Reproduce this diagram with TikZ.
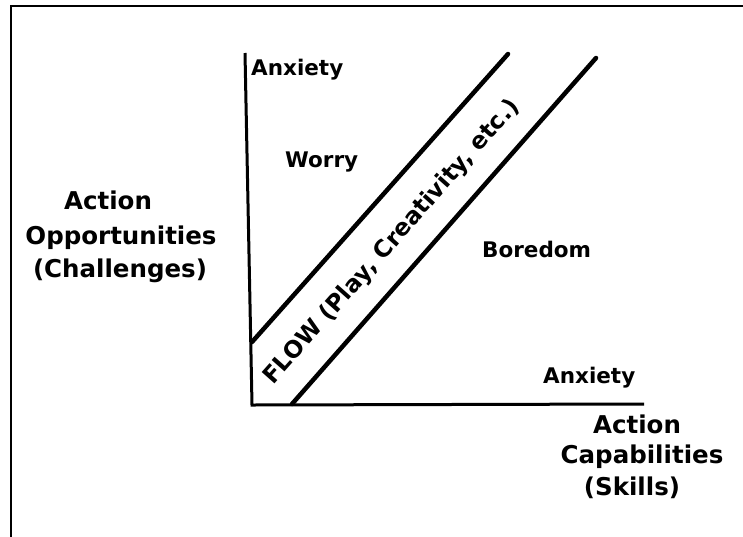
\documentclass[tikz,border=0pt]{standalone}
\usepackage{fontspec}
\setmainfont{DejaVu Sans}
\begin{document}
\begin{tikzpicture}[x=1pt,y=-1pt,
  lbl/.style={font=\bfseries\fontsize{21.5}{26}\selectfont, inner sep=0pt},
  axlbl/.style={font=\bfseries\fontsize{24.5}{30}\selectfont, inner sep=0pt},
  axisline/.style={line width=3pt},
  bandline/.style={line width=4.5pt, line cap=round},
  frameline/.style={line width=2.5pt}]
\useasboundingbox (0,0) rectangle (743,536);
% frame
\coordinate (f1) at (11,540);
\coordinate (f2) at (11,6);
\coordinate (f3) at (746,6);
\draw[frameline] (f1) -- (f2) -- (f3);
% axes
\coordinate (ytop) at (245,53);
\coordinate (orig) at (252,405);
\coordinate (xend) at (644,404);
\draw[axisline] (ytop) -- (orig) -- (xend);
% flow channel
\coordinate (u1) at (252,342);
\coordinate (u2) at (508,54);
\coordinate (l1) at (292,404);
\coordinate (l2) at (596,58);
\draw[bandline] (u1) -- (u2);
\draw[bandline] (l1) -- (l2);
% labels
\node[lbl, anchor=base west] (anx1) at (251,75) {Anxiety};
\node[lbl, anchor=base west] (worry) at (285,167) {Worry};
\node[lbl, anchor=base west] (bored) at (482,257) {Boredom};
\node[lbl, anchor=base west] (anx2) at (543,383) {Anxiety};
\node[axlbl, anchor=base] (yl1) at (108,209) {Action};
\node[axlbl, anchor=base] (yl2) at (121,244) {Opportunities};
\node[axlbl, anchor=base] (yl3) at (120,277) {(Challenges)};
\node[axlbl, anchor=base] (xl1) at (637,433) {Action};
\node[axlbl, anchor=base] (xl2) at (642,463) {Capabilities};
\node[axlbl, anchor=base] (xl3) at (632,495) {(Skills)};
\node[lbl, font=\bfseries\fontsize{23.5}{28}\selectfont, rotate=48.4] (flow) at (392,242) {FLOW (Play, Creativity, etc.)};
\end{tikzpicture}
\end{document}
